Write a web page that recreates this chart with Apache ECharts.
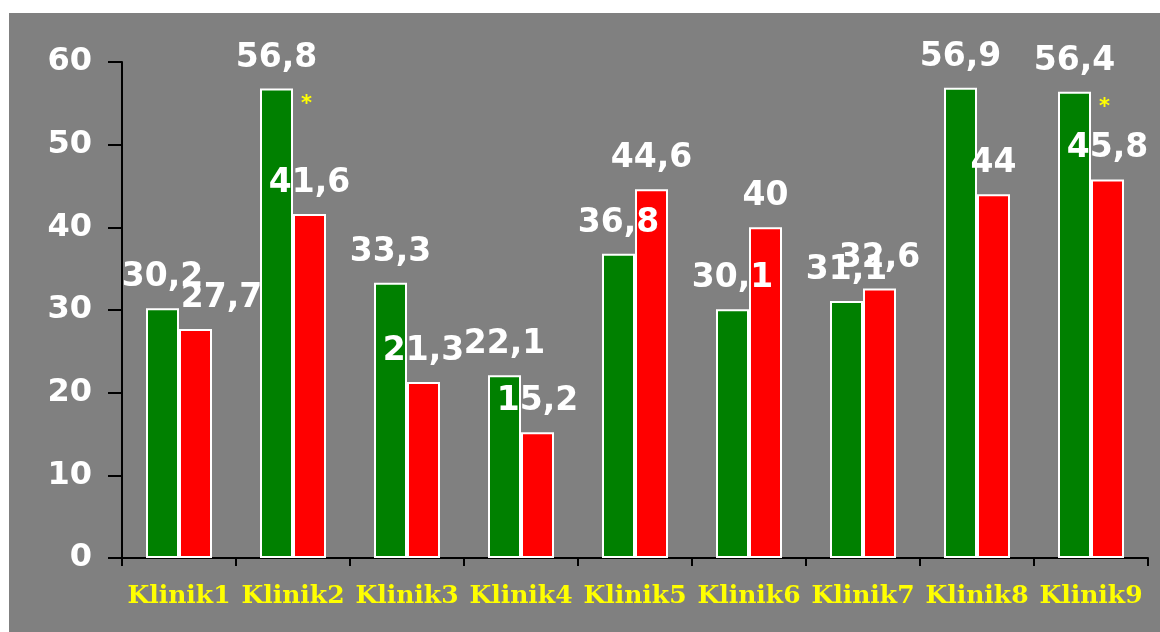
<!DOCTYPE html>
<html>
<head>
<meta charset="utf-8">
<script src="https://cdn.jsdelivr.net/npm/echarts@6/dist/echarts.min.js"></script>
<style>
  html, body { margin: 0; padding: 0; background: #ffffff; }
  #chart { position: absolute; left: 9px; top: 13px; width: 1151px; height: 619px; background: #808080; }
</style>
</head>
<body>
<div id="chart"></div>
<script>
// Clinic names along the x axis
const categories = ['Klinik1', 'Klinik2', 'Klinik3', 'Klinik4', 'Klinik5', 'Klinik6', 'Klinik7', 'Klinik8', 'Klinik9'];
// First group (green) and second group (red) values per clinic
const greenValues = [30.2, 56.8, 33.3, 22.1, 36.8, 30.1, 31.1, 56.9, 56.4];
const redValues = [27.7, 41.6, 21.3, 15.2, 44.6, 40, 32.6, 44, 45.8];
// Clinics marked as significant with an asterisk
const significant = ['Klinik2', 'Klinik9'];
// Y axis range
const yMin = 0, yMax = 60, yStep = 10;

const fmt = v => String(v).replace('.', ',');

// Small nudges for labels that would collide
const redLabelNudge = { 0: [26, 0] };

const valueLabel = {
  show: true,
  position: 'top',
  distance: 14,
  color: '#ffffff',
  fontFamily: 'DejaVu Sans',
  fontWeight: 'bold',
  fontSize: 33,
  formatter: p => fmt(p.value)
};

const chart = echarts.init(document.getElementById('chart'), null, { renderer: 'canvas' });

chart.setOption({
  animation: false,
  backgroundColor: '#808080',
  grid: { left: 113, right: 12, top: 49, bottom: 74, containLabel: false },
  xAxis: {
    type: 'category',
    data: categories,
    axisLine: { show: true, lineStyle: { color: '#000000', width: 2 } },
    axisTick: { show: true, length: 8, lineStyle: { color: '#000000', width: 2 } },
    axisLabel: {
      interval: 0,
      margin: 26,
      color: '#ffff00',
      fontFamily: 'DejaVu Serif',
      fontWeight: 'bold',
      fontSize: 25
    }
  },
  yAxis: {
    type: 'value',
    min: yMin,
    max: yMax,
    interval: yStep,
    splitLine: { show: false },
    axisLine: { show: true, lineStyle: { color: '#000000', width: 2 } },
    axisTick: { show: true, length: 14, lineStyle: { color: '#000000', width: 2 } },
    axisLabel: {
      margin: 30,
      color: '#ffffff',
      fontFamily: 'DejaVu Sans',
      fontWeight: 'bold',
      fontSize: 32
    }
  },
  series: [
    {
      name: 'A',
      type: 'bar',
      barWidth: 33,
      barGap: '0%',
      data: greenValues,
      itemStyle: { color: '#008000', borderColor: '#ffffff', borderWidth: 2 },
      label: valueLabel,
      markPoint: {
        symbol: 'circle',
        symbolSize: 0,
        data: significant.map(name => ({
          coord: [name, greenValues[categories.indexOf(name)]]
        })),
        label: {
          show: true,
          formatter: '*',
          offset: [30, 16],
          color: '#ffff00',
          fontFamily: 'DejaVu Sans',
          fontWeight: 'bold',
          fontSize: 21
        }
      }
    },
    {
      name: 'B',
      type: 'bar',
      barWidth: 33,
      barGap: '0%',
      data: redValues.map((v, i) => redLabelNudge[i]
        ? { value: v, label: { offset: redLabelNudge[i] } }
        : v),
      itemStyle: { color: '#ff0000', borderColor: '#ffffff', borderWidth: 2 },
      label: valueLabel
    }
  ]
});
</script>
</body>
</html>
